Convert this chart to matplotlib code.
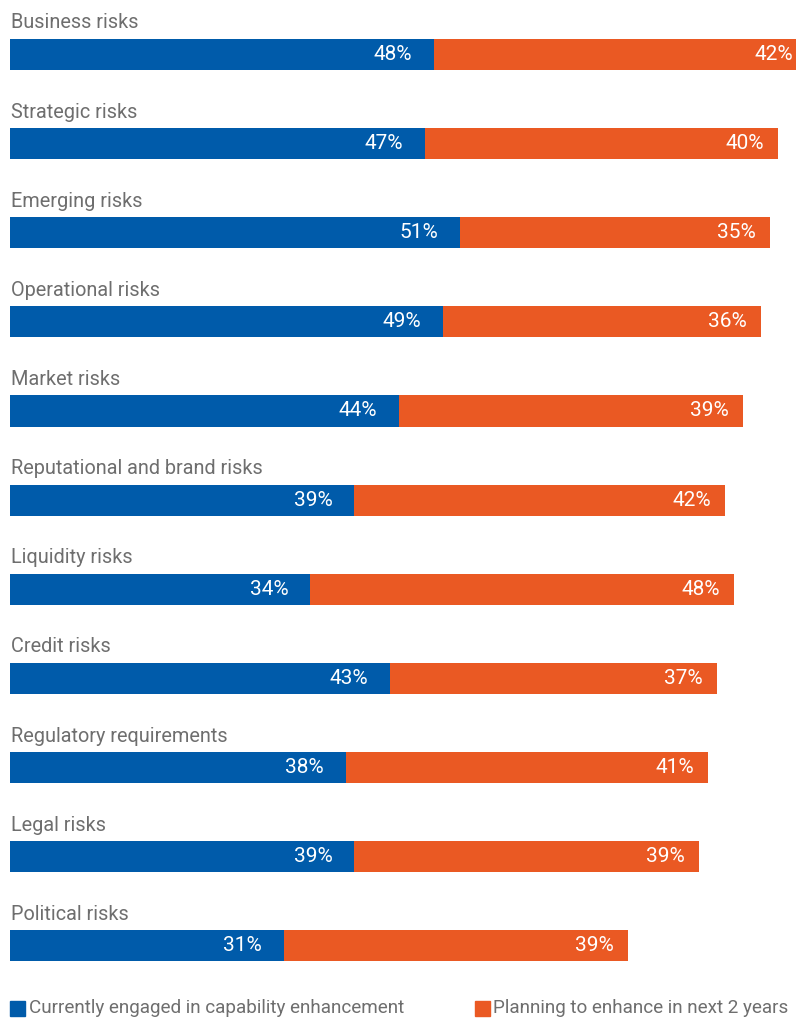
import numpy as np
import matplotlib.pyplot as plt
from matplotlib.patches import Rectangle

# Datos
categorias = ['Business risks', 'Strategic risks', 'Emerging risks', 'Operational risks',
              'Market risks', 'Reputational and brand risks', 'Liquidity risks', 'Credit risks',
              'Regulatory requirements', 'Legal risks', 'Political risks']
actual = [48, 47, 51, 49, 44, 39, 34, 43, 38, 39, 31]
planeado = [42, 40, 35, 36, 39, 42, 48, 37, 41, 39, 39]
leyenda = ['Currently engaged in capability enhancement', 'Planning to enhance in next 2 years']

azul = '#005BAA'
naranja = '#EA5923'
gris = '#6E6E6E'

plt.rcParams['font.family'] = ['Roboto', 'DejaVu Sans']

W, H = 796, 1019
fig = plt.figure(figsize=(W / 100, H / 100), dpi=100)
ax = fig.add_axes([10 / W, 0, 1 - 10 / W, 1])

y = np.arange(len(categorias))
ax.barh(y, actual, height=0.35, color=azul)
ax.barh(y, planeado, left=actual, height=0.35, color=naranja)

xmax = 89
for i in range(len(categorias)):
    ax.annotate(categorias[i], (0, y[i]), xytext=(1, 22), textcoords='offset pixels',
                ha='left', va='bottom', fontsize=14.3, color=gris)
    ax.annotate(f'{actual[i]}%', (actual[i], y[i]), xytext=(-22, 0), textcoords='offset pixels',
                ha='right', va='center', fontsize=15, color='white')
    fin = actual[i] + planeado[i]
    if fin > xmax:
        ax.annotate(f'{planeado[i]}%', (xmax, y[i]), xytext=(-3, 0),
                    textcoords='offset pixels', ha='right', va='center', fontsize=15, color='white')
    else:
        ax.annotate(f'{planeado[i]}%', (fin, y[i]), xytext=(-14, 0),
                    textcoords='offset pixels', ha='right', va='center', fontsize=15, color='white')

ax.set_xlim(0, xmax)
ax.set_ylim(10.82, -0.61)
ax.axis('off')

# Leyenda
fig.add_artist(Rectangle((10 / W, 1 - 1016 / H), 15 / W, 15 / H, color=azul, transform=fig.transFigure))
fig.text(29 / W, 1 - 1008 / H, leyenda[0], color=gris, fontsize=13.6, va='center', ha='left')
fig.add_artist(Rectangle((475 / W, 1 - 1016 / H), 15 / W, 15 / H, color=naranja, transform=fig.transFigure))
fig.text(493 / W, 1 - 1008 / H, leyenda[1], color=gris, fontsize=13.6, va='center', ha='left')

fig.savefig('out.png', dpi=100)
